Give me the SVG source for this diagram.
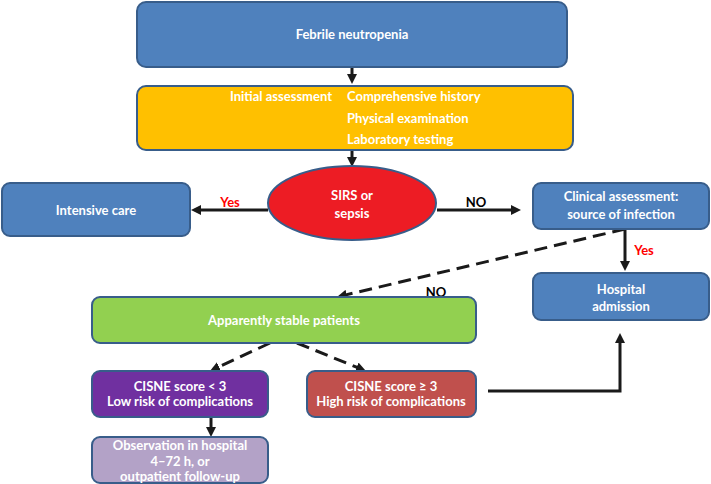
<svg xmlns="http://www.w3.org/2000/svg" width="711" height="484" viewBox="0 0 711 484">
<defs>
<style>
.box{stroke:#385D8A;stroke-width:2}
.blue{fill:#4F81BD}
.t{font-family:"Lato","Liberation Sans",sans-serif;font-weight:bold;font-size:13px;fill:#ffffff;text-anchor:middle;dominant-baseline:central}
.ts{font-family:"Lato","Liberation Sans",sans-serif;font-weight:bold;font-size:13px;fill:#ffffff;dominant-baseline:central}
.lbl{font-family:"Lato","Liberation Sans",sans-serif;font-weight:bold;font-size:13px;text-anchor:middle;dominant-baseline:central}
.c{stroke:#1a1a1a;stroke-width:3;fill:none;marker-end:url(#ah)}
.d{stroke-dasharray:13 7}
</style>
<marker id="ah" viewBox="0 0 10 10" refX="4" refY="5" markerWidth="10" markerHeight="10" markerUnits="userSpaceOnUse" orient="auto">
<path d="M0,0 L10,5 L0,10 Z" fill="#1a1a1a"/>
</marker>
</defs>
<rect width="711" height="484" fill="#ffffff"/>

<g id="connectors">
<line class="c" x1="352" y1="67" x2="352" y2="78"/>
<line class="c" x1="352" y1="151" x2="352" y2="161"/>
<line class="c" x1="268" y1="210" x2="197" y2="210"/>
<line class="c" x1="437" y1="210" x2="515" y2="210"/>
<line class="c" x1="625" y1="229" x2="625" y2="265"/>
<line class="c d" x1="625" y1="229" x2="342.8" y2="295.6"/>
<line class="c d" x1="270" y1="343" x2="215.4" y2="368.5"/>
<line class="c d" x1="297" y1="343" x2="360.4" y2="368.7"/>
<line class="c" x1="211" y1="417" x2="211" y2="431"/>
<path class="c" d="M488,391 H620 V339"/>
<text class="lbl" x="230" y="202" fill="#FF0000">Yes</text>
<text class="lbl" x="476" y="202" fill="#000000">NO</text>
<text class="lbl" x="644" y="250" fill="#FF0000">Yes</text>
<text class="lbl" x="436" y="292" fill="#000000">NO</text>
</g>

<g id="febrile">
<rect class="box blue" x="137" y="2" width="430" height="65" rx="9"/>
<text class="t" x="352" y="34">Febrile neutropenia</text>
</g>

<g id="initial">
<rect class="box" fill="#FFC000" x="137" y="86" width="436" height="64" rx="9"/>
<text class="ts" x="332" y="96" text-anchor="end">Initial assessment</text>
<text class="ts" x="347" y="96">Comprehensive history</text>
<text class="ts" x="347" y="118">Physical examination</text>
<text class="ts" x="347" y="139">Laboratory testing</text>
</g>

<g id="sirs">
<ellipse class="box" fill="#ED1C24" cx="352" cy="203" rx="84" ry="37"/>
<text class="t" x="352" y="195">SIRS or</text>
<text class="t" x="352" y="213">sepsis</text>
</g>

<g id="intensive">
<rect class="box blue" x="2" y="183" width="188" height="53" rx="8"/>
<text class="t" x="96" y="210">Intensive care</text>
</g>

<g id="clinical">
<rect class="box blue" x="533" y="183" width="176" height="46" rx="8"/>
<text class="t" x="621" y="196">Clinical assessment:</text>
<text class="t" x="621" y="214">source of infection</text>
</g>

<g id="hospital">
<rect class="box blue" x="533" y="273" width="176" height="47" rx="8"/>
<text class="t" x="621" y="289">Hospital</text>
<text class="t" x="621" y="306">admission</text>
</g>

<g id="stable">
<rect class="box" fill="#92D050" x="92" y="297" width="384" height="46" rx="8"/>
<text class="t" x="284" y="320">Apparently stable patients</text>
</g>

<g id="low">
<rect class="box" fill="#7030A0" x="92" y="371" width="176" height="46" rx="8"/>
<text class="t" x="180" y="386">CISNE score &lt; 3</text>
<text class="t" x="180" y="401">Low risk of complications</text>
</g>

<g id="high">
<rect class="box" fill="#C0504D" x="307" y="371" width="169" height="46" rx="8"/>
<text class="t" x="391" y="386">CISNE score ≥ 3</text>
<text class="t" x="391" y="401">High risk of complications</text>
</g>

<g id="observation">
<rect class="box" fill="#B3A2C7" x="92" y="437" width="176" height="46" rx="8"/>
<text class="t" x="180" y="445">Observation in hospital</text>
<text class="t" x="180" y="461">4–72 h, or</text>
<text class="t" x="180" y="476">outpatient follow-up</text>
</g>
</svg>
